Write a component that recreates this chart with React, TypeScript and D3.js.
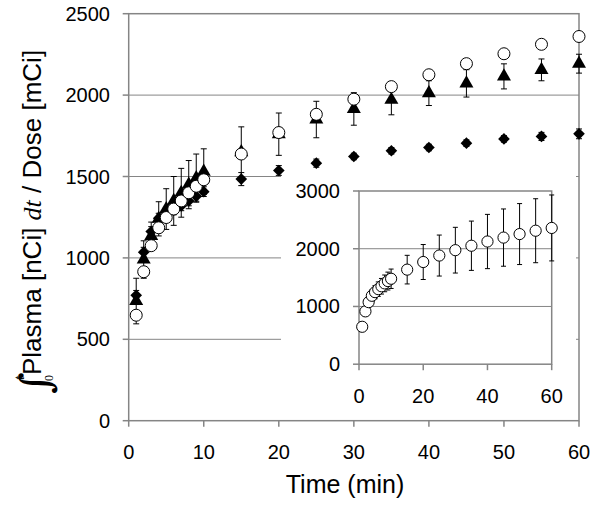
import React from "react";
import * as d3 from "d3";

const times = [1, 2, 3, 4, 5, 6, 7, 8, 9, 10, 15, 20, 25, 30, 35, 40, 45, 50, 55, 60];
const circleMean = [648, 915, 1075, 1185, 1248, 1300, 1350, 1400, 1440, 1480, 1638, 1770, 1882, 1975, 2052, 2125, 2193, 2254, 2312, 2360];
const circleErr = [60, 80, 90, 100, 115, 125, 135, 145, 155, 168, 248, 303, 355, 396, 427, 470, 496, 528, 554, 571];
const triMean = [735, 990, 1135, 1240, 1300, 1350, 1400, 1450, 1490, 1530, 1650, 1760, 1850, 1915, 1971, 2012, 2072, 2115, 2155, 2193];
const triErr = [140, 115, 85, 105, 125, 150, 150, 148, 148, 140, 155, 130, 112, 100, 92, 76, 84, 77, 67, 58];
const diaMean = [770, 1035, 1162, 1244, 1270, 1295, 1320, 1350, 1378, 1407, 1484, 1537, 1582, 1623, 1658, 1678, 1705, 1731, 1746, 1762];
const diaErr = [30, 30, 30, 30, 30, 30, 30, 30, 30, 30, 40, 30, 25, 20, 20, 20, 20, 20, 25, 30];

const mainXTicks = [0, 10, 20, 30, 40, 50, 60];
const mainYTicks = [0, 500, 1000, 1500, 2000, 2500];
const insetXTicks = [0, 20, 40, 60];
const insetYTicks = [0, 1000, 2000, 3000];

const W = 600;
const H = 508;
const FONT = "'Liberation Sans', Arial, sans-serif";
const AXIS = "#858585";

export default function App() {
  const x = d3.scaleLinear().domain([0, 60]).range([128.7, 579]);
  const y = d3.scaleLinear().domain([0, 2500]).range([420.7, 13.7]);
  const ix = d3.scaleLinear().domain([0, 60]).range([359, 551.7]);
  const iy = d3.scaleLinear().domain([0, 3000]).range([364.2, 191]);

  const tri = d3.symbol().type(d3.symbolTriangle).size(85)() as string;
  const dia = d3.symbol().type(d3.symbolSquare).size(68)() as string;

  const errBar = (cx: number, y1: number, y2: number, cap: number, key: string) => (
    <g key={key} stroke="#000" strokeWidth={1}>
      <line x1={cx} x2={cx} y1={y1} y2={y2} />
      <line x1={cx - cap} x2={cx + cap} y1={y1} y2={y1} />
      <line x1={cx - cap} x2={cx + cap} y1={y2} y2={y2} />
    </g>
  );

  return (
    <svg width={W} height={H} style={{ position: "absolute", left: 0, top: 0, background: "#fff" }} fontFamily={FONT}>
      {/* main gridlines */}
      {[500, 1000, 1500, 2000].map((v) => (
        <line key={"g" + v} x1={x(0)} x2={x(60)} y1={y(v)} y2={y(v)} stroke={AXIS} strokeWidth={1} />
      ))}
      {/* main frame */}
      <rect x={x(0)} y={y(2500)} width={x(60) - x(0)} height={y(0) - y(2500)} fill="none" stroke={AXIS} strokeWidth={1.5} />
      {mainYTicks.map((v) => (
        <g key={"yt" + v}>
          <line x1={x(0) - 6} x2={x(0)} y1={y(v)} y2={y(v)} stroke={AXIS} strokeWidth={1.5} />
          <text x={110} y={y(v)} dy="0.35em" textAnchor="end" fontSize={20} fill="#000">{v}</text>
        </g>
      ))}
      {mainXTicks.map((v) => (
        <g key={"xt" + v}>
          <line x1={x(v)} x2={x(v)} y1={y(0)} y2={y(0) + 6} stroke={AXIS} strokeWidth={1.5} />
          <text x={x(v)} y={459} textAnchor="middle" fontSize={20} fill="#000">{v}</text>
        </g>
      ))}
      <text x={345} y={493} textAnchor="middle" fontSize={25} fill="#000">Time (min)</text>

      {/* y label */}
      <g transform="translate(41,392) rotate(-90)">
        <text x={-2} y={9} fontFamily="'DejaVu Serif', serif" fontSize={42} fill="#000">∫</text>
        <text x={12} y={-17} fontFamily="'Liberation Serif', serif" fontStyle="italic" fontSize={14} fill="#000">t</text>
        <text x={11} y={12} fontFamily="'Liberation Serif', serif" fontSize={12} fill="#000">0</text>
        <text x={17} y={0} fontSize={26} fill="#000">
          Plasma [nCi]{" "}
          <tspan fontFamily="'Liberation Serif', serif" fontStyle="italic">dt</tspan>
          {" / Dose [mCi]"}
        </text>
      </g>

      {/* inset */}
      <rect x={281} y={174} width={295} height={244} fill="#fff" />
      {[1000, 2000].map((v) => (
        <line key={"ig" + v} x1={ix(0)} x2={ix(60)} y1={iy(v)} y2={iy(v)} stroke={AXIS} strokeWidth={1} />
      ))}
      <rect x={ix(0)} y={iy(3000)} width={ix(60) - ix(0)} height={iy(0) - iy(3000)} fill="none" stroke={AXIS} strokeWidth={1.5} />
      {insetYTicks.map((v) => (
        <g key={"iyt" + v}>
          <line x1={ix(0) - 6} x2={ix(0)} y1={iy(v)} y2={iy(v)} stroke={AXIS} strokeWidth={1.5} />
          <text x={340} y={iy(v)} dy="0.35em" textAnchor="end" fontSize={20} fill="#000">{v}</text>
        </g>
      ))}
      {insetXTicks.map((v) => (
        <g key={"ixt" + v}>
          <line x1={ix(v)} x2={ix(v)} y1={iy(0)} y2={iy(0) + 6} stroke={AXIS} strokeWidth={1.5} />
          <text x={ix(v)} y={403} textAnchor="middle" fontSize={20} fill="#000">{v}</text>
        </g>
      ))}
      {times.map((t, i) =>
        errBar(ix(t), iy(circleMean[i] + circleErr[i]), iy(circleMean[i] - circleErr[i]), 2.5, "ie" + i)
      )}
      {times.map((t, i) => (
        <circle key={"ic" + i} cx={ix(t)} cy={iy(circleMean[i])} r={5.6} fill="#fff" stroke="#000" strokeWidth={1} />
      ))}

      {/* main data */}
      {times.map((t, i) =>
        errBar(x(t), y(diaMean[i] + diaErr[i]), y(diaMean[i] - diaErr[i]), 3, "de" + i)
      )}
      {times.map((t, i) => (
        <path key={"d" + i} d={dia} transform={`translate(${x(t)},${y(diaMean[i])}) rotate(45)`} fill="#000" />
      ))}
      {times.map((t, i) =>
        errBar(x(t), y(triMean[i] + triErr[i]), y(triMean[i] - triErr[i]), 3, "te" + i)
      )}
      {times.map((t, i) => (
        <path key={"t" + i} d={tri} transform={`translate(${x(t)},${y(triMean[i])})`} fill="#000" />
      ))}
      {times.map((t, i) => (
        <circle key={"c" + i} cx={x(t)} cy={y(circleMean[i])} r={6} fill="#fff" stroke="#000" strokeWidth={1} />
      ))}
    </svg>
  );
}
